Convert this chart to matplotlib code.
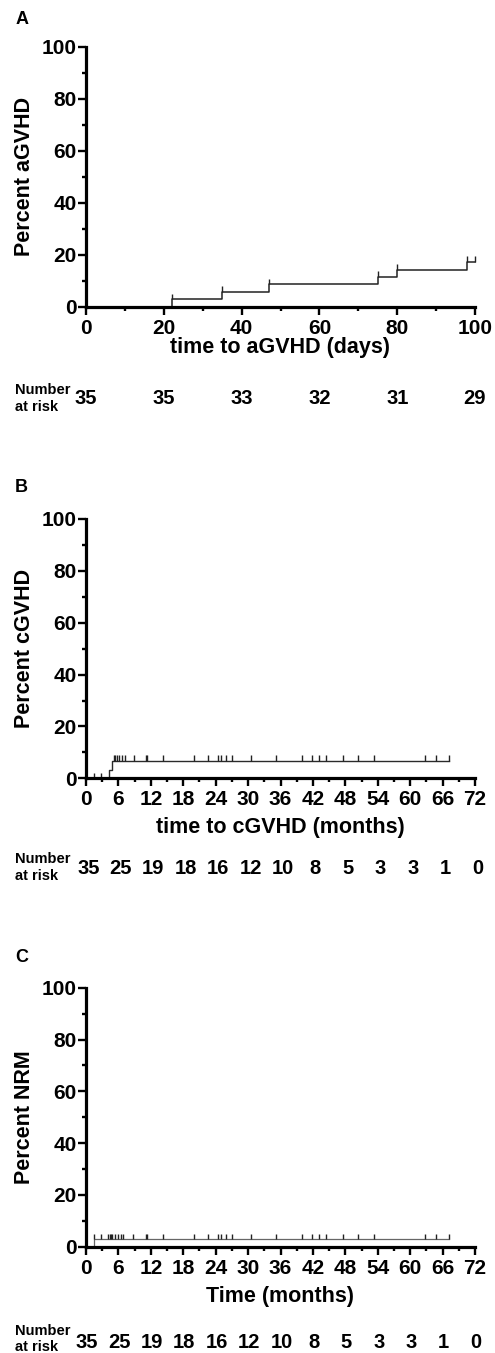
import matplotlib.pyplot as plt
import matplotlib.transforms as mtransforms
import numpy as np
from matplotlib.ticker import MultipleLocator

plt.rcParams['font.family'] = ['Liberation Sans', 'DejaVu Sans']
plt.rcParams['font.weight'] = 'bold'

# Panel A: acute GVHD, days
a_times = [0, 22, 35, 47, 75, 80, 98, 100]
a_pct = [0, 2.86, 5.71, 8.57, 11.43, 14.29, 17.14, 17.14]
a_censor = [22, 35, 47, 75, 80, 98, 100]
a_risk_t = [0, 20, 40, 60, 80, 100]
a_risk_n = [35, 35, 33, 32, 31, 29]

# Panel B: chronic GVHD, months
b_times = [0, 4.3, 4.8, 67.2]
b_pct = [0, 3.1, 6.7, 6.7]
b_censor_zero = [1.5, 2.7]
b_censor = [5.1, 5.4, 5.8, 6.2, 6.7, 7.2, 8.8, 11.1, 11.3, 14.2, 19.9, 22.5,
            24.5, 24.9, 26.0, 27.1, 30.5, 35.1, 39.9, 41.8, 43.2, 44.4, 47.6,
            50.4, 53.3, 62.7, 64.8, 67.2]

# Panel C: non-relapse mortality, months
c_times = [0, 1.5, 67.2]
c_pct = [0, 2.86, 2.86]
c_censor = [1.5, 2.7, 4.1, 4.4, 4.6, 4.9, 5.4, 5.9, 6.4, 6.9, 8.7, 11.1, 11.3,
            14.2, 19.9, 22.5, 24.5, 24.9, 26.0, 27.1, 30.5, 35.1, 39.9, 41.8,
            43.2, 44.4, 47.6, 50.4, 53.3, 62.7, 64.8, 67.2]

month_risk_t = [0, 6, 12, 18, 24, 30, 36, 42, 48, 54, 60, 66, 72]
month_risk_n = [35, 25, 19, 18, 16, 12, 10, 8, 5, 3, 3, 1, 0]

W, H = 495, 1353
fig = plt.figure(figsize=(W / 100, H / 100), dpi=100)


def fy(y):
    return 1 - y / H


def make_axes(top, bottom):
    return fig.add_axes([86 / W, fy(bottom), 389 / W, (bottom - top) / H])


def style(ax, xmax, major, minor):
    ax.set_xlim(0, xmax)
    ax.set_ylim(0, 100)
    for s in ['top', 'right']:
        ax.spines[s].set_visible(False)
    for s in ['left', 'bottom']:
        ax.spines[s].set_linewidth(2.3)
    ax.xaxis.set_major_locator(MultipleLocator(major))
    ax.xaxis.set_minor_locator(MultipleLocator(minor))
    ax.yaxis.set_major_locator(MultipleLocator(20))
    ax.yaxis.set_minor_locator(MultipleLocator(10))
    ax.tick_params(which='major', length=5.5, width=1.7, labelsize=15)
    ax.tick_params(which='minor', length=3, width=1.7)
    ax.tick_params(axis='x', which='major', pad=3)
    ax.tick_params(axis='y', which='major', pad=1.2)
    for lab in ax.get_xticklabels() + ax.get_yticklabels():
        lab.set_fontweight('bold')


def censor(ax, xs, level, color='#222222'):
    level = np.asarray(level, dtype=float)
    ax.vlines(xs, level, level + 2.2, color=color, linewidth=1.0, clip_on=False)


def risk_row(ax, ts, ns, y_num, y_lab1, y_lab2, dx=0):
    tr = mtransforms.blended_transform_factory(ax.transData, fig.transFigure)
    off = mtransforms.ScaledTranslation(dx / 100, 0, fig.dpi_scale_trans)
    for t, n in zip(ts, ns):
        ax.text(t, fy(y_num), str(n), transform=tr + off, ha='center',
                va='center', fontsize=14.5, fontweight='bold')
    fig.text(15 / W, fy(y_lab1), 'Number', ha='left', va='center',
             fontsize=10.5, fontweight='bold')
    fig.text(15 / W, fy(y_lab2), 'at risk', ha='left', va='center',
             fontsize=10.5, fontweight='bold')


# ---- A ----
axA = make_axes(46.7, 306.7)
style(axA, 100, 20, 10)
axA.step(a_times, a_pct, where='post', color='#222222', linewidth=1.1, clip_on=False)
censor(axA, a_censor, [a_pct[a_times.index(t)] for t in a_censor])
fig.text(16 / W, fy(20), 'A', fontsize=13, fontweight='bold', ha='left', va='center')
fig.text(25 / W, fy(176.7), 'Percent aGVHD', rotation=90, fontsize=15.5,
         fontweight='bold', ha='center', va='center')
fig.text(280 / W, fy(348), 'time to aGVHD (days)', fontsize=15.5,
         fontweight='bold', ha='center', va='center')
risk_row(axA, a_risk_t, a_risk_n, 398, 390, 407)

# ---- B ----
axB = make_axes(519, 778.3)
style(axB, 72, 6, 3)
axB.step(b_times, b_pct, where='post', color='#2a2a2a', linewidth=1.0, clip_on=False)
censor(axB, b_censor_zero, 0)
censor(axB, b_censor, b_pct[-1])
fig.text(15 / W, fy(487.7), 'B', fontsize=13, fontweight='bold', ha='left', va='center')
fig.text(25 / W, fy(648.6), 'Percent cGVHD', rotation=90, fontsize=15.5,
         fontweight='bold', ha='center', va='center')
fig.text(280 / W, fy(828), 'time to cGVHD (months)', fontsize=15.5,
         fontweight='bold', ha='center', va='center')
risk_row(axB, month_risk_t, month_risk_n, 869, 859, 876, dx=2.5)

# ---- C ----
axC = make_axes(987.7, 1246.7)
style(axC, 72, 6, 3)
axC.step(c_times, c_pct, where='post', color='#666666', linewidth=0.9, clip_on=False)
censor(axC, c_censor, c_pct[-1])
fig.text(15 / W, fy(958), 'C', fontsize=13, fontweight='bold', ha='left', va='center')
fig.text(25 / W, fy(1117.2), 'Percent NRM', rotation=90, fontsize=15.5,
         fontweight='bold', ha='center', va='center')
fig.text(280 / W, fy(1296.7), 'Time (months)', fontsize=15.5,
         fontweight='bold', ha='center', va='center')
risk_row(axC, month_risk_t, month_risk_n, 1343, 1331, 1347, dx=1)

fig.savefig('out.png', dpi=100)
